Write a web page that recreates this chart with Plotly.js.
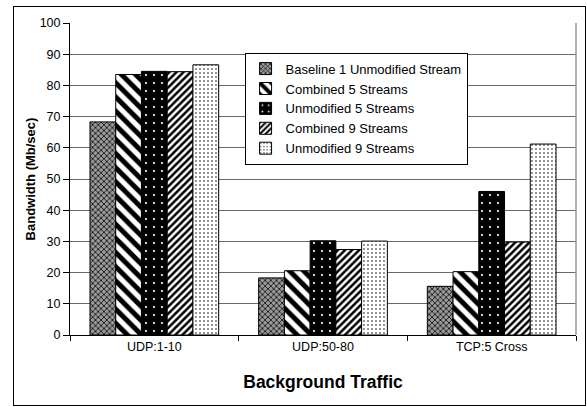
<!DOCTYPE html>
<html>
<head>
<meta charset="utf-8">
<script src="https://cdn.plot.ly/plotly-3.0.1.min.js"></script>
<style>
html,body{margin:0;padding:0;background:#fff;}
#wrap{position:relative;width:587px;height:407px;}
#chart{position:absolute;left:0;top:0;width:587px;height:407px;}
#frame{position:absolute;left:13px;top:6px;width:571px;height:398px;border:1.5px solid #000;pointer-events:none;}
</style>
</head>
<body>
<div id="wrap"><div id="chart"></div><div id="frame"></div></div>
<script>
const categories = ["UDP:1-10", "UDP:50-80", "TCP:5 Cross"];
const seriesNames = ["Baseline 1 Unmodified Stream", "Combined 5 Streams", "Unmodified 5 Streams", "Combined 9 Streams", "Unmodified 9 Streams"];
const baseline1 = [68.3, 18.3, 15.6];
const combined5 = [83.5, 20.6, 20.3];
const unmodified5 = [84.5, 30.2, 46.0];
const combined9 = [84.4, 27.4, 29.8];
const unmodified9 = [86.6, 30.1, 61.2];
const yTicks = [0, 10, 20, 30, 40, 50, 60, 70, 80, 90, 100];

const values = [baseline1, combined5, unmodified5, combined9, unmodified9];
const patterns = [
  {shape: "x", fgcolor: "#000", bgcolor: "#9a9a9a", size: 4, solidity: 0.35},
  {shape: "\\", fgcolor: "#000", bgcolor: "#fff", size: 10, solidity: 0.5},
  {shape: ".", fgcolor: "#fff", bgcolor: "#000", size: 8, solidity: 0.06},
  {shape: "/", fgcolor: "#000", bgcolor: "#fff", size: 5, solidity: 0.5},
  {shape: ".", fgcolor: "#000", bgcolor: "#fff", size: 4, solidity: 0.12}
];

const traces = seriesNames.map((n, i) => ({
  type: "bar",
  name: n,
  x: categories,
  y: values[i],
  marker: {color: "#fff", line: {color: "#000", width: 1}, pattern: patterns[i]}
}));

const layout = {
  width: 587, height: 407,
  margin: {l: 70, r: 11, t: 23, b: 72},
  paper_bgcolor: "#fff", plot_bgcolor: "#fff",
  font: {family: "Liberation Sans, Arial, sans-serif", size: 12, color: "#000"},
  barmode: "group", bargap: 0.237, bargroupgap: 0,
  showlegend: true,
  legend: {x: 0.345, y: 0.905, xanchor: "left", yanchor: "top", bgcolor: "#fff",
           bordercolor: "#000", borderwidth: 1, font: {size: 13}, itemwidth: 30,
           tracegroupgap: 0, traceorder: "normal"},
  xaxis: {
    type: "category", showline: true, linecolor: "#000", linewidth: 1,
    ticks: "outside", tickson: "boundaries", ticklen: 5, tickcolor: "#000",
    showgrid: false, tickfont: {size: 12.5},
    title: {text: "Background Traffic", font: {size: 17.5, weight: "bold"}, standoff: 22},
    automargin: false, fixedrange: true
  },
  yaxis: {
    range: [0, 100], tickvals: yTicks, ticktext: yTicks.map(String),
    showline: true, linecolor: "#000", linewidth: 1,
    ticks: "outside", ticklen: 6, tickcolor: "#000",
    showgrid: true, gridcolor: "#6a6a6a", gridwidth: 1, zeroline: false,
    tickfont: {size: 12.5},
    title: {text: "Bandwidth (Mb/sec)", font: {size: 13, weight: "bold"}, standoff: 1},
    automargin: false, fixedrange: true
  },
  shapes: [{type: "line", xref: "paper", yref: "paper", x0: 1, x1: 1, y0: 0, y1: 1,
            line: {color: "#999", width: 1.5}}]
};

Plotly.newPlot("chart", traces, layout, {displayModeBar: false, staticPlot: true});
</script>
</body>
</html>
